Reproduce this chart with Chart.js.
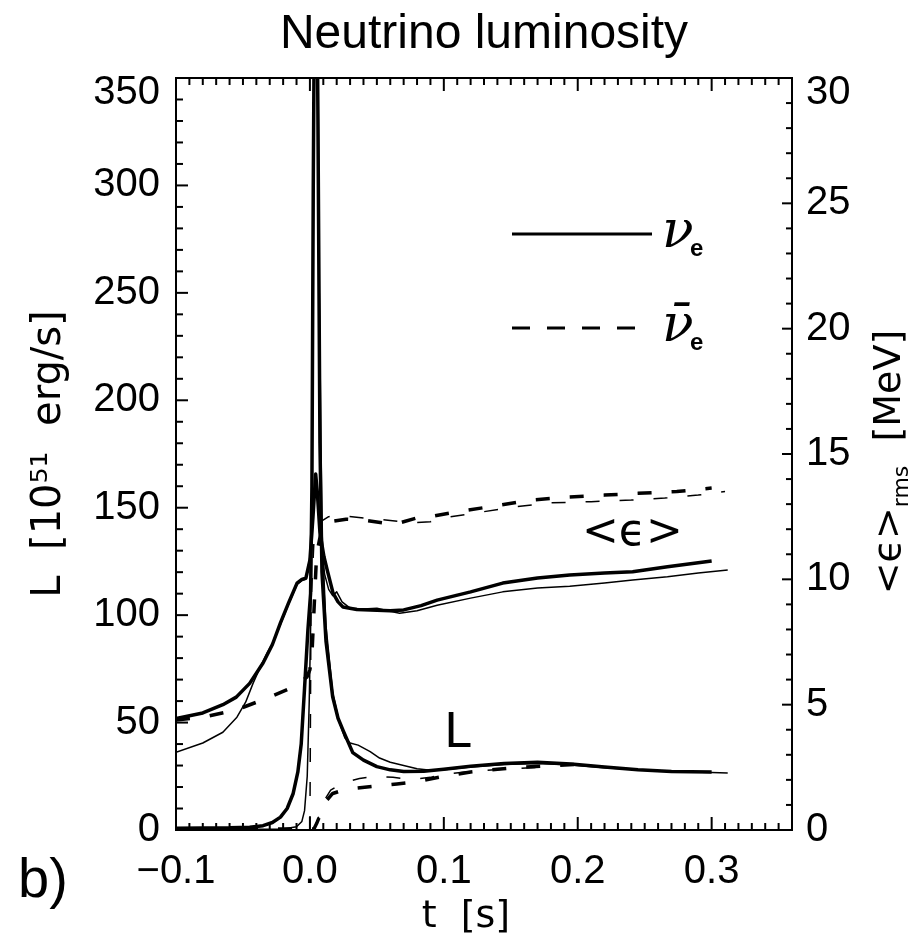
<!DOCTYPE html>
<html>
<head>
<meta charset="utf-8">
<script src="https://cdn.jsdelivr.net/npm/chart.js@4.4.1/dist/chart.umd.min.js"></script>
<style>
html,body{margin:0;padding:0;background:#ffffff;}
#box{width:909px;height:948px;}
</style>
</head>
<body>
<div id="box"><canvas id="chart" width="909" height="948"></canvas></div>
<script>
const chartTitle = 'Neutrino luminosity';
const xTickValues = [-0.1, 0.0, 0.1, 0.2, 0.3];
const xTickLabels = ['\u22120.1', '0.0', '0.1', '0.2', '0.3'];
const yTickValues = [0, 50, 100, 150, 200, 250, 300, 350];
const yTickLabels = ['0', '50', '100', '150', '200', '250', '300', '350'];
const y2TickValues = [0, 5, 10, 15, 20, 25, 30];
const y2TickLabels = ['0', '5', '10', '15', '20', '25', '30'];

// nu_e luminosity [10^51 erg/s], thick model
const tNueLThick = [-0.1, -0.08, -0.06, -0.045, -0.035, -0.028, -0.022, -0.017, -0.0125, -0.009, -0.0065, -0.004, -0.0015, 0.0005, 0.0015, 0.0025, 0.0038, 0.005, 0.006, 0.0075, 0.009, 0.012, 0.017, 0.021, 0.025, 0.032, 0.04, 0.05, 0.06, 0.07, 0.085, 0.1, 0.12, 0.145, 0.17, 0.195, 0.22, 0.245, 0.27, 0.3];
const nueLThick = [0.8, 0.9, 1.0, 1.3, 2.0, 3.5, 6, 10, 17, 27, 40, 66, 93, 110, 160, 300, 430, 420, 330, 180, 120, 88, 62, 52, 46, 36, 32.5, 29.5, 28, 27.2, 27.3, 28.3, 29.7, 31, 31.5, 30.7, 29.3, 28, 27.2, 27];
// nu_e luminosity, thin model
const tNueLThin = [-0.1, -0.05, -0.02, -0.01, -0.006, -0.004, -0.002, -0.0005, 0.001, 0.002, 0.0035, 0.0055, 0.007, 0.009, 0.012, 0.017, 0.022, 0.026, 0.03, 0.036, 0.045, 0.052, 0.06, 0.07, 0.08, 0.09, 0.1, 0.12, 0.145, 0.17, 0.195, 0.22, 0.245, 0.27, 0.3, 0.312];
const nueLThin = [0.3, 0.3, 0.5, 1.5, 4, 9, 25, 60, 110, 200, 420, 420, 250, 140, 95, 64, 50, 43, 40.5, 39.5, 36.5, 33.5, 31.5, 30, 28.5, 27.8, 28, 29.3, 30.5, 31, 30.3, 29, 28, 27.2, 26.8, 26.5];
// nu_e rms energy [MeV], thick model
const tNueEThick = [-0.1, -0.08, -0.065, -0.055, -0.045, -0.035, -0.028, -0.022, -0.016, -0.0096, -0.006, -0.003, 0.0, 0.0023, 0.0043, 0.0055, 0.0075, 0.0105, 0.0128, 0.0173, 0.021, 0.0247, 0.035, 0.045, 0.06, 0.07, 0.083, 0.095, 0.12, 0.144, 0.17, 0.194, 0.22, 0.241, 0.267, 0.3];
const nueEThick = [4.45, 4.67, 5.0, 5.3, 5.85, 6.66, 7.4, 8.26, 9.05, 9.85, 10.0, 10.05, 10.77, 12.5, 14.2, 13.5, 11.85, 10.9, 10.4, 9.45, 9.1, 8.9, 8.8, 8.78, 8.75, 8.78, 8.95, 9.17, 9.5, 9.85, 10.05, 10.17, 10.25, 10.3, 10.5, 10.73];
// nu_e rms energy, thin model
const tNueEThin = [-0.1, -0.08, -0.065, -0.0545, -0.048, -0.0424, -0.037, -0.032, -0.028, -0.022, -0.016, -0.0096, -0.006, -0.003, 0.0, 0.0025, 0.0045, 0.006, 0.008, 0.011, 0.014, 0.017, 0.02, 0.024, 0.03, 0.04, 0.05, 0.058, 0.067, 0.08, 0.095, 0.12, 0.144, 0.17, 0.194, 0.22, 0.241, 0.267, 0.29, 0.312];
const nueEThin = [3.1, 3.47, 3.9, 4.5, 5.1, 5.86, 6.5, 7.06, 7.45, 8.2, 9.0, 9.8, 9.95, 10.0, 10.9, 12.8, 14.0, 13.0, 11.5, 10.2, 9.6, 9.35, 9.5, 9.1, 8.85, 8.82, 8.85, 8.75, 8.65, 8.75, 8.97, 9.25, 9.5, 9.65, 9.72, 9.85, 9.97, 10.1, 10.25, 10.37];
// anti-nu_e rms energy, thick model
const tAnueEThick = [-0.1, -0.08, -0.055, -0.03, -0.0126, -0.0022, 0.0, 0.0015, 0.005, 0.0095, 0.015, 0.027, 0.039, 0.055, 0.067, 0.08, 0.09, 0.11, 0.135, 0.165, 0.193, 0.22, 0.245, 0.274, 0.3];
const anueEThick = [4.39, 4.5, 4.79, 5.3, 5.7, 6.1, 6.4, 7.0, 11.0, 12.2, 12.3, 12.4, 12.37, 12.25, 12.25, 12.45, 12.5, 12.7, 12.9, 13.16, 13.28, 13.36, 13.43, 13.5, 13.64];
// anti-nu_e rms energy, thin model
const tAnueEThin = [0.0, 0.0008, 0.003, 0.008, 0.014, 0.02, 0.04, 0.06, 0.075, 0.09, 0.1, 0.13, 0.155, 0.18, 0.21, 0.24, 0.265, 0.29, 0.31];
const anueEThin = [0, 9, 11.5, 12.3, 12.5, 12.55, 12.45, 12.35, 12.25, 12.3, 12.45, 12.7, 12.9, 13.05, 13.1, 13.16, 13.24, 13.36, 13.5];
// anti-nu_e luminosity, thick model
const tAnueLThick = [-0.1, 0.003, 0.005, 0.009, 0.0128, 0.017, 0.025, 0.035, 0.05, 0.065, 0.08, 0.1, 0.12, 0.14, 0.16, 0.18, 0.2];
const anueLThick = [0.5, 0.5, 3, 9, 14, 17, 18.6, 19.5, 20.5, 21.4, 22.5, 25, 27, 28.3, 29.3, 30, 30.5];
// anti-nu_e luminosity, thin model
const tAnueLThin = [0.003, 0.006, 0.01, 0.0155, 0.025, 0.037, 0.05, 0.062, 0.075, 0.09, 0.1, 0.125, 0.15, 0.18];
const anueLThin = [0, 5, 13, 18.6, 22, 24, 25, 24.5, 23.5, 24.5, 26, 27.5, 28.5, 29.5];

function pts(ts, vs) { return ts.map((t, i) => ({x: t, y: vs[i]})); }

const THICK = 3.5, THIN = 1.5, DASH = [14, 20];
function ds(label, ts, vs, axis, w, dash) {
  return {
    label: label, data: pts(ts, vs), yAxisID: axis, showLine: true,
    borderColor: '#000', backgroundColor: '#000', borderWidth: w,
    borderDash: dash || [], pointRadius: 0, pointHoverRadius: 0,
    tension: 0, fill: false, borderCapStyle: 'butt', borderJoinStyle: 'round'
  };
}

const datasets = [
  ds('nu_e L (thick)', tNueLThick, nueLThick, 'y', THICK),
  ds('nu_e L (thin)', tNueLThin, nueLThin, 'y', THIN),
  ds('nu_e <e> (thick)', tNueEThick, nueEThick, 'y2', THICK),
  ds('nu_e <e> (thin)', tNueEThin, nueEThin, 'y2', THIN),
  ds('anti nu_e <e> (thick)', tAnueEThick, anueEThick, 'y2', THICK, DASH),
  ds('anti nu_e <e> (thin)', tAnueEThin, anueEThin, 'y2', THIN, DASH),
  ds('anti nu_e L (thick)', tAnueLThick, anueLThick, 'y', THICK, DASH),
  ds('anti nu_e L (thin)', tAnueLThin, anueLThin, 'y', THIN, DASH)
];

const TICKFONT = {family: 'Liberation Sans', size: 40, weight: 'normal'};
const AXFONT = {family: 'DejaVu Sans', size: 40, weight: 'normal'};

function topShifted(value, topValue, label) {
  return value === topValue ? ['', label] : label;
}

const decor = {
  id: 'decor',
  afterDatasetsDraw(chart) {
    const {ctx, chartArea: a, scales} = chart;
    const xs = scales.x, ys = scales.y, y2s = scales.y2;
    ctx.save();
    ctx.strokeStyle = '#000';
    ctx.fillStyle = '#000';
    ctx.lineWidth = 2;
    ctx.lineCap = 'butt';
    const seg = (x1, y1, x2, y2) => { ctx.beginPath(); ctx.moveTo(x1, y1); ctx.lineTo(x2, y2); ctx.stroke(); };
    ctx.strokeRect(a.left, a.top, a.right - a.left, a.bottom - a.top);
    // x ticks (bottom and top), minor every 0.01
    for (let i = 0; i <= 45; i++) {
      const px = xs.getPixelForValue(-0.1 + i * 0.01);
      const len = (i % 10 === 0) ? 13 : 7;
      seg(px, a.bottom, px, a.bottom - len);
      seg(px, a.top, px, a.top + len);
    }
    // left ticks, minor every 10
    for (let v = 0; v <= 350; v += 10) {
      const py = ys.getPixelForValue(v);
      const len = (v % 50 === 0) ? 12 : 7;
      seg(a.left, py, a.left + len, py);
    }
    // right ticks, minor every 1
    for (let v = 0; v <= 30; v += 1) {
      const py = y2s.getPixelForValue(v);
      const len = (v % 5 === 0) ? 10 : 6;
      seg(a.right, py, a.right - len, py);
    }
    // annotations
    ctx.textBaseline = 'alphabetic';
    ctx.textAlign = 'left';
    ctx.font = '44px "DejaVu Sans"';
    ctx.fillText('<\u03F5>', 582, 545);
    ctx.font = '48px "DejaVu Sans"';
    ctx.fillText('L', 444, 747);
    // legend
    ctx.lineWidth = 3;
    ctx.setLineDash([]);
    seg(512, 234, 652, 234);
    ctx.setLineDash([18, 17]);
    seg(512, 328, 650, 328);
    ctx.setLineDash([]);
    ctx.font = 'italic 52px "DejaVu Serif"';
    ctx.fillText('\u03BD', 662, 247);
    ctx.fillText('\u03BD\u0304', 662, 341);
    ctx.font = 'bold 24px "Liberation Sans"';
    ctx.fillText('e', 690, 256);
    ctx.fillText('e', 690, 350);
    // panel tag
    ctx.font = '56px "Liberation Sans"';
    ctx.fillText('b)', 18, 897);
    // right axis title, rotated (reads bottom to top)
    ctx.save();
    ctx.translate(900, 462);
    ctx.rotate(-Math.PI / 2);
    const big = '38px "DejaVu Sans"', small = '22px "DejaVu Sans"';
    const p1 = '<\u03F5>', p2 = 'rms', p3 = '  [MeV]';
    ctx.font = big;
    const w1 = ctx.measureText(p1).width;
    const w3 = ctx.measureText(p3).width;
    ctx.font = small;
    const w2 = ctx.measureText(p2).width;
    const x0 = -(w1 + w2 + w3) / 2;
    ctx.font = big;
    ctx.fillText(p1, x0, 0);
    ctx.font = small;
    ctx.fillText(p2, x0 + w1, 8);
    ctx.font = big;
    ctx.fillText(p3, x0 + w1 + w2, 0);
    ctx.restore();
    ctx.restore();
  }
};

Chart.defaults.font.family = 'Liberation Sans';
Chart.defaults.color = '#000';

new Chart(document.getElementById('chart'), {
  type: 'scatter',
  data: {datasets: datasets},
  plugins: [decor],
  options: {
    responsive: false,
    devicePixelRatio: 1,
    animation: false,
    events: [],
    layout: {padding: 0},
    plugins: {
      legend: {display: false},
      tooltip: {enabled: false},
      title: {
        display: true, text: chartTitle, fullSize: false, color: '#000',
        font: {family: 'Liberation Sans', size: 48, weight: 'normal', lineHeight: 1.2},
        padding: {top: 6, bottom: 14.4}
      }
    },
    scales: {
      x: {
        type: 'linear', position: 'bottom', min: -0.1, max: 0.36,
        afterBuildTicks: s => { s.ticks = xTickValues.map(v => ({value: v})); },
        afterFit: s => { s.height = 118; },
        grid: {display: false, drawTicks: false},
        border: {display: false},
        ticks: {
          callback: (v, i) => xTickLabels[i], font: TICKFONT, color: '#000',
          padding: 18, maxRotation: 0, minRotation: 0, autoSkip: false
        },
        title: {display: true, text: 't  [s]\u00A0\u00A0\u00A0', color: '#000',
          font: Object.assign({}, AXFONT, {size: 38}), padding: {top: 0, bottom: 8}}
      },
      y: {
        type: 'linear', position: 'left', min: 0, max: 350,
        afterBuildTicks: s => { s.ticks = yTickValues.map(v => ({value: v})); },
        afterFit: s => { s.width = 176; },
        grid: {display: false, drawTicks: false},
        border: {display: false},
        ticks: {
          callback: (v, i) => topShifted(v, 350, yTickLabels[i]),
          font: ctx => (ctx.tick && ctx.tick.value === 350) ? Object.assign({}, TICKFONT, {lineHeight: '30px'}) : TICKFONT,
          color: '#000', padding: 16, autoSkip: false
        },
        title: {display: true, text: 'L  [10\u2075\u00B9  erg/s]', color: '#000',
          font: AXFONT, padding: {top: 26, bottom: 0}}
      },
      y2: {
        type: 'linear', position: 'right', min: 0, max: 30,
        afterBuildTicks: s => { s.ticks = y2TickValues.map(v => ({value: v})); },
        afterFit: s => { s.width = 117; },
        grid: {display: false, drawTicks: false},
        border: {display: false},
        ticks: {
          callback: (v, i) => topShifted(v, 30, y2TickLabels[i]),
          font: ctx => (ctx.tick && ctx.tick.value === 30) ? Object.assign({}, TICKFONT, {lineHeight: '30px'}) : TICKFONT,
          color: '#000', padding: 14, autoSkip: false
        }
      }
    }
  }
});
</script>
</body>
</html>
